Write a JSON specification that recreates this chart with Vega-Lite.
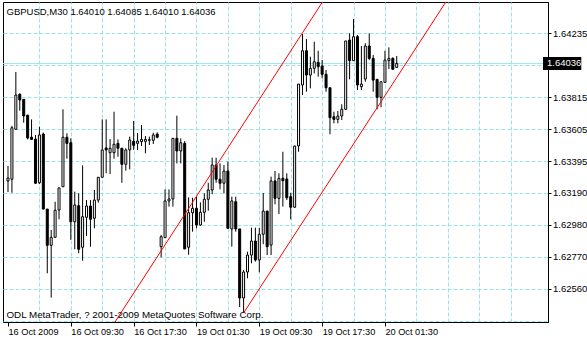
{
  "$schema": "https://vega.github.io/schema/vega-lite/v6.json",
  "width": 545,
  "height": 320,
  "autosize": "none",
  "padding": {"left": 3, "top": 2, "right": 39, "bottom": 19},
  "background": "white",
  "config": {"view": {"stroke": "#000", "strokeWidth": 1}, "font": "Liberation Sans"},
  "datasets": {
    "candles": [
      {"i":0,"o":1.63267,"h":1.63365,"l":1.63195,"c":1.63286},
      {"i":1,"o":1.63278,"h":1.63627,"l":1.63190,"c":1.63615},
      {"i":2,"o":1.63605,"h":1.63980,"l":1.63604,"c":1.63829},
      {"i":3,"o":1.63834,"h":1.63840,"l":1.63727,"c":1.63797},
      {"i":4,"o":1.63801,"h":1.63803,"l":1.63648,"c":1.63692},
      {"i":5,"o":1.63698,"h":1.63698,"l":1.63539,"c":1.63548},
      {"i":6,"o":1.63553,"h":1.63670,"l":1.63535,"c":1.63539},
      {"i":7,"o":1.63541,"h":1.63568,"l":1.63247,"c":1.63252},
      {"i":8,"o":1.63255,"h":1.63622,"l":1.63247,"c":1.63568},
      {"i":9,"o":1.63574,"h":1.63583,"l":1.63083,"c":1.63083},
      {"i":10,"o":1.63083,"h":1.63083,"l":1.62663,"c":1.62846},
      {"i":11,"o":1.62846,"h":1.62946,"l":1.62503,"c":1.62898},
      {"i":12,"o":1.62898,"h":1.63131,"l":1.62898,"c":1.63075},
      {"i":13,"o":1.63077,"h":1.63225,"l":1.63016,"c":1.63221},
      {"i":14,"o":1.63229,"h":1.63736,"l":1.63229,"c":1.63553},
      {"i":15,"o":1.63553,"h":1.63579,"l":1.63413,"c":1.63513},
      {"i":16,"o":1.63517,"h":1.63546,"l":1.62881,"c":1.63000},
      {"i":17,"o":1.63000,"h":1.63197,"l":1.62820,"c":1.63110},
      {"i":18,"o":1.63105,"h":1.63186,"l":1.62794,"c":1.62820},
      {"i":19,"o":1.62833,"h":1.63369,"l":1.62745,"c":1.63033},
      {"i":20,"o":1.63029,"h":1.63142,"l":1.62907,"c":1.63103},
      {"i":21,"o":1.63103,"h":1.63142,"l":1.62837,"c":1.63016},
      {"i":22,"o":1.63023,"h":1.63208,"l":1.62957,"c":1.63142},
      {"i":23,"o":1.63142,"h":1.63291,"l":1.63125,"c":1.63291},
      {"i":24,"o":1.63291,"h":1.63670,"l":1.63291,"c":1.63470},
      {"i":25,"o":1.63483,"h":1.63670,"l":1.63317,"c":1.63470},
      {"i":26,"o":1.63452,"h":1.63541,"l":1.63312,"c":1.63481},
      {"i":27,"o":1.63452,"h":1.63720,"l":1.63413,"c":1.63507},
      {"i":28,"o":1.63513,"h":1.63539,"l":1.63426,"c":1.63481},
      {"i":29,"o":1.63481,"h":1.63481,"l":1.63255,"c":1.63376},
      {"i":30,"o":1.63376,"h":1.63481,"l":1.63334,"c":1.63470},
      {"i":31,"o":1.63470,"h":1.63557,"l":1.63343,"c":1.63535},
      {"i":32,"o":1.63526,"h":1.63659,"l":1.63470,"c":1.63500},
      {"i":33,"o":1.63513,"h":1.63581,"l":1.63470,"c":1.63528},
      {"i":34,"o":1.63524,"h":1.63633,"l":1.63496,"c":1.63539},
      {"i":35,"o":1.63526,"h":1.63561,"l":1.63448,"c":1.63539},
      {"i":36,"o":1.63533,"h":1.63557,"l":1.63502,"c":1.63537},
      {"i":37,"o":1.63533,"h":1.63583,"l":1.63509,"c":1.63568},
      {"i":38,"o":1.63574,"h":1.63585,"l":1.63546,"c":1.63553},
      {"i":39,"o":1.62837,"h":1.62913,"l":1.62767,"c":1.62902},
      {"i":40,"o":1.62896,"h":1.63212,"l":1.62896,"c":1.63136},
      {"i":41,"o":1.63136,"h":1.63212,"l":1.63099,"c":1.63149},
      {"i":42,"o":1.63149,"h":1.63546,"l":1.63099,"c":1.63546},
      {"i":43,"o":1.63546,"h":1.63694,"l":1.63382,"c":1.63463},
      {"i":44,"o":1.63463,"h":1.63546,"l":1.63382,"c":1.63517},
      {"i":45,"o":1.63513,"h":1.63528,"l":1.62822,"c":1.62822},
      {"i":46,"o":1.62833,"h":1.63160,"l":1.62784,"c":1.63059},
      {"i":47,"o":1.63059,"h":1.63157,"l":1.62935,"c":1.63088},
      {"i":48,"o":1.63088,"h":1.63164,"l":1.62957,"c":1.62979},
      {"i":49,"o":1.62979,"h":1.63127,"l":1.62974,"c":1.63062},
      {"i":50,"o":1.63062,"h":1.63186,"l":1.63000,"c":1.63147},
      {"i":51,"o":1.63147,"h":1.63255,"l":1.63072,"c":1.63208},
      {"i":52,"o":1.63208,"h":1.63419,"l":1.63180,"c":1.63371},
      {"i":53,"o":1.63371,"h":1.63419,"l":1.63255,"c":1.63278},
      {"i":54,"o":1.63278,"h":1.63382,"l":1.63212,"c":1.63252},
      {"i":55,"o":1.63252,"h":1.63371,"l":1.63186,"c":1.63332},
      {"i":56,"o":1.63332,"h":1.63393,"l":1.62957,"c":1.62957},
      {"i":57,"o":1.62953,"h":1.63164,"l":1.62837,"c":1.63136},
      {"i":58,"o":1.63131,"h":1.63164,"l":1.62935,"c":1.62953},
      {"i":59,"o":1.62953,"h":1.62953,"l":1.62442,"c":1.62501},
      {"i":60,"o":1.62501,"h":1.62684,"l":1.62403,"c":1.62671},
      {"i":61,"o":1.62671,"h":1.62804,"l":1.62630,"c":1.62782},
      {"i":62,"o":1.62782,"h":1.62961,"l":1.62728,"c":1.62874},
      {"i":63,"o":1.62874,"h":1.62961,"l":1.62739,"c":1.62750},
      {"i":64,"o":1.62750,"h":1.62961,"l":1.62669,"c":1.62918},
      {"i":65,"o":1.62918,"h":1.63188,"l":1.62853,"c":1.63070},
      {"i":66,"o":1.63070,"h":1.63070,"l":1.62782,"c":1.62837},
      {"i":67,"o":1.62848,"h":1.63295,"l":1.62782,"c":1.63267},
      {"i":68,"o":1.63267,"h":1.63332,"l":1.63114,"c":1.63153},
      {"i":69,"o":1.63153,"h":1.63317,"l":1.63051,"c":1.63284},
      {"i":70,"o":1.63284,"h":1.63458,"l":1.63099,"c":1.63269},
      {"i":71,"o":1.63280,"h":1.63317,"l":1.63142,"c":1.63157},
      {"i":72,"o":1.63164,"h":1.63190,"l":1.63016,"c":1.63095},
      {"i":73,"o":1.63095,"h":1.63496,"l":1.63090,"c":1.63496},
      {"i":74,"o":1.63496,"h":1.63901,"l":1.63458,"c":1.63901},
      {"i":75,"o":1.63895,"h":1.64228,"l":1.63829,"c":1.64119},
      {"i":76,"o":1.64119,"h":1.64196,"l":1.63851,"c":1.63960},
      {"i":77,"o":1.63960,"h":1.64080,"l":1.63873,"c":1.64004},
      {"i":78,"o":1.64004,"h":1.64178,"l":1.63971,"c":1.64047},
      {"i":79,"o":1.64043,"h":1.64119,"l":1.63949,"c":1.64015},
      {"i":80,"o":1.64019,"h":1.64058,"l":1.63939,"c":1.63965},
      {"i":81,"o":1.63965,"h":1.63993,"l":1.63851,"c":1.63877},
      {"i":82,"o":1.63877,"h":1.63877,"l":1.63572,"c":1.63681},
      {"i":83,"o":1.63687,"h":1.63720,"l":1.63644,"c":1.63670},
      {"i":84,"o":1.63670,"h":1.63725,"l":1.63644,"c":1.63692},
      {"i":85,"o":1.63692,"h":1.63769,"l":1.63666,"c":1.63736},
      {"i":86,"o":1.63736,"h":1.64183,"l":1.63731,"c":1.64183},
      {"i":87,"o":1.64189,"h":1.64233,"l":1.63932,"c":1.64054},
      {"i":88,"o":1.64054,"h":1.64327,"l":1.64054,"c":1.64211},
      {"i":89,"o":1.64211,"h":1.64222,"l":1.63862,"c":1.63895},
      {"i":90,"o":1.63884,"h":1.64150,"l":1.63862,"c":1.63901},
      {"i":91,"o":1.63934,"h":1.64168,"l":1.63916,"c":1.64150},
      {"i":92,"o":1.64150,"h":1.64233,"l":1.64058,"c":1.64069},
      {"i":93,"o":1.64069,"h":1.64091,"l":1.63851,"c":1.63927},
      {"i":94,"o":1.63932,"h":1.63932,"l":1.63736,"c":1.63814},
      {"i":95,"o":1.63814,"h":1.63916,"l":1.63749,"c":1.63916},
      {"i":96,"o":1.63912,"h":1.64119,"l":1.63912,"c":1.64058},
      {"i":97,"o":1.64054,"h":1.64141,"l":1.63999,"c":1.64069},
      {"i":98,"o":1.64069,"h":1.64076,"l":1.63993,"c":1.63998},
      {"i":99,"o":1.64010,"h":1.64085,"l":1.64010,"c":1.64036}
    ],
    "channel": [
      {"line":"upper","i":20,"p":1.62057},
      {"line":"upper","i":90,"p":1.64831},
      {"line":"lower","i":60,"p":1.62403},
      {"line":"lower","i":115,"p":1.64576}
    ],
    "current": [{"p":1.64036,"label":"1.64036"}]
  },
  "layer": [
    {
      "data": {"name": "current"},
      "mark": {"type": "rule", "color": "#9fe4ea", "strokeWidth": 1},
      "encoding": {
        "y": {"field": "p", "type": "quantitative", "scale": {"domain": [1.62344, 1.64438], "nice": false, "zero": false}, "axis": null}
      }
    },
    {
      "data": {"name": "candles"},
      "mark": {"type": "rule", "color": "#000", "strokeWidth": 1},
      "encoding": {
        "x": {"field": "i", "type": "quantitative", "scale": {"domain": [0, 136.25], "nice": false, "zero": false},
          "axis": {"orient": "top", "values": [8,16,24,32,40,48,56,64,72,80,88,96,104,112,120,128], "grid": true, "gridColor": "#9ee3e3", "gridDash": [4,2], "gridWidth": 1, "labels": false, "ticks": false, "domain": false,
            "title": "GBPUSD,M30  1.64010 1.64085 1.64010 1.64036", "titleX": 3, "titleY": 12, "titleAlign": "left", "titleAnchor": "start", "titleBaseline": "alphabetic", "titleFontWeight": "normal", "titleFontSize": 9.5, "titleFont": "Liberation Sans", "titleColor": "#000"}},
        "y": {"field": "l", "type": "quantitative", "scale": {"domain": [1.62344, 1.64438], "nice": false, "zero": false},
          "axis": {"orient": "left", "values": [1.62351,1.6256,1.62769,1.62979,1.63188,1.63398,1.63607,1.63816,1.64026,1.64235], "grid": true, "gridColor": "#9ee3e3", "gridDash": [4,2], "gridWidth": 1, "labels": false, "ticks": false, "domain": false, "title": null}},
        "y2": {"field": "h"}
      }
    },
    {
      "data": {"name": "candles"},
      "mark": {"type": "bar", "size": 2, "stroke": "#000", "strokeWidth": 1},
      "encoding": {
        "x": {"field": "i", "type": "quantitative", "scale": {"domain": [0, 136.25], "nice": false, "zero": false},
          "axis": {"orient": "bottom", "values": [0,16,32,48,64,80,96], "grid": false, "domain": true, "domainColor": "#000", "ticks": true, "tickColor": "#000", "tickSize": 4, "labelAlign": "left", "labelBaseline": "top", "labelPadding": 1, "labelOffset": 0, "labelFlush": false, "labelOverlap": false, "labelBound": false, "labelFontSize": 9.2, "labelColor": "#000", "labelFont": "Liberation Sans",
            "labelExpr": "datum.value == 0 ? '16 Oct 2009' : datum.value == 16 ? '16 Oct 09:30' : datum.value == 32 ? '16 Oct 17:30' : datum.value == 48 ? '19 Oct 01:30' : datum.value == 64 ? '19 Oct 09:30' : datum.value == 80 ? '19 Oct 17:30' : '20 Oct 01:30'",
            "title": "ODL MetaTrader, ? 2001-2009 MetaQuotes Software Corp.", "titleX": 3, "titleY": -5, "titleAlign": "left", "titleAnchor": "start", "titleBaseline": "alphabetic", "titleFontWeight": "normal", "titleFontSize": 9.8, "titleFont": "Liberation Sans", "titleColor": "#000"}},
        "y": {"field": "o", "type": "quantitative", "scale": {"domain": [1.62344, 1.64438], "nice": false, "zero": false},
          "axis": {"orient": "right", "values": [1.6256,1.6277,1.6298,1.6319,1.63395,1.63605,1.63815,1.64235], "format": ".5f", "grid": false, "domain": true, "domainColor": "#000", "ticks": true, "tickColor": "#000", "tickSize": 3, "labelPadding": 1.5, "labelFontSize": 9.5, "labelColor": "#000", "labelFont": "Liberation Sans", "labelBaseline": "middle", "title": null}},
        "y2": {"field": "c"},
        "fill": {"condition": {"test": "datum.c >= datum.o", "value": "#ffffff"}, "value": "#000000"}
      }
    },
    {
      "data": {"name": "channel"},
      "mark": {"type": "line", "color": "#ff0000", "strokeWidth": 1, "clip": true},
      "encoding": {
        "x": {"field": "i", "type": "quantitative", "scale": {"domain": [0, 136.25], "nice": false, "zero": false}, "axis": null},
        "y": {"field": "p", "type": "quantitative", "scale": {"domain": [1.62344, 1.64438], "nice": false, "zero": false}, "axis": null},
        "detail": {"field": "line"}
      }
    },
    {
      "data": {"name": "current"},
      "mark": {"type": "rule", "color": "#000", "strokeWidth": 13, "strokeCap": "butt"},
      "encoding": {
        "x": {"datum": 136.25, "type": "quantitative", "scale": {"domain": [0, 136.25], "nice": false, "zero": false}, "axis": null},
        "x2": {"datum": 146},
        "y": {"field": "p", "type": "quantitative", "scale": {"domain": [1.62344, 1.64438], "nice": false, "zero": false}, "axis": null}
      }
    },
    {
      "data": {"name": "current"},
      "mark": {"type": "text", "color": "#fff", "align": "left", "baseline": "middle", "dx": 4, "fontSize": 9.5, "font": "Liberation Sans"},
      "encoding": {
        "x": {"datum": 136.25, "type": "quantitative", "scale": {"domain": [0, 136.25], "nice": false, "zero": false}, "axis": null},
        "y": {"field": "p", "type": "quantitative", "scale": {"domain": [1.62344, 1.64438], "nice": false, "zero": false}, "axis": null},
        "text": {"field": "label"}
      }
    }
  ],
  "resolve": {"axis": {"x": "independent", "y": "independent"}}
}
